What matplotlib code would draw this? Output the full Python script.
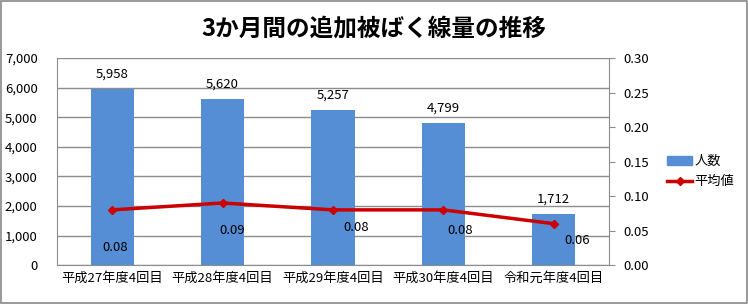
import matplotlib
matplotlib.use("Agg")
import matplotlib.pyplot as plt
from matplotlib.patches import Rectangle
from matplotlib.lines import Line2D
from matplotlib.ticker import FuncFormatter

plt.rcParams['font.family'] = ['Noto Sans CJK JP', 'DejaVu Sans']

categories = ["平成27年度4回目", "平成28年度4回目", "平成29年度4回目", "平成30年度4回目", "令和元年度4回目"]
people = [5958, 5620, 5257, 4799, 1712]
average = [0.08, 0.09, 0.08, 0.08, 0.06]
label_dx = [2, 7, 17, 12, 17]        # line label offsets in points
label_dy = [-27, -20, -13, -15, -12]

title = "3か月間の追加被ばく線量の推移"
bar_color = "#558ED5"
line_color = "#CC0000"
grid_color = "#8C8C8C"

fig = plt.figure(figsize=(7.48, 3.04), dpi=100)
ax = fig.add_axes([0.0762, 0.128, 0.738, 0.681])
ax2 = ax.twinx()

x = list(range(len(categories)))
bars = ax.bar(x, people, width=0.39, color=bar_color, zorder=2)
ax.set_ylim(0, 7000)
ax.set_yticks(range(0, 7001, 1000))
ax.yaxis.set_major_formatter(FuncFormatter(lambda v, p: f"{int(v):,}"))
ax.set_xlim(-0.5, len(categories) - 0.5)
ax.set_xticks(x)
ax.set_xticklabels(categories, fontsize=9.5)
ax.tick_params(axis='x', length=0, pad=5)
ax.tick_params(axis='y', length=0, pad=14, labelsize=9.5)
ax.grid(axis='y', color=grid_color, linewidth=1, zorder=0)
ax.set_axisbelow(True)
for s in ['top', 'right']:
    ax.spines[s].set_visible(False)
ax.spines['left'].set_color(grid_color)
ax.spines['bottom'].set_color(grid_color)

for xi, v in zip(x, people):
    ax.annotate(f"{v:,}", (xi, v), xytext=(0, 6), textcoords='offset points',
                ha='center', va='bottom', fontsize=9.5)

ax2.plot(x, average, color=line_color, linewidth=2.5, marker='D', markersize=4.5,
         markerfacecolor=line_color, markeredgecolor=line_color, zorder=3)
ax2.set_ylim(0, 0.30)
ax2.set_yticks([i * 0.05 for i in range(7)])
ax2.yaxis.set_major_formatter(FuncFormatter(lambda v, p: f"{v:.2f}"))
ax2.tick_params(axis='y', length=4, color=grid_color, labelsize=9.5, pad=6)
for s in ['top', 'left', 'bottom']:
    ax2.spines[s].set_visible(False)
ax2.spines['right'].set_color(grid_color)

for xi, v, dx, dy in zip(x, average, label_dx, label_dy):
    ax2.annotate(f"{v:.2f}", (xi, v), xytext=(dx, dy), textcoords='offset points',
                 ha='center', va='center', fontsize=9.5)

handles = [Rectangle((0, 0), 1, 1, color=bar_color),
           Line2D([0], [0], color=line_color, linewidth=2.5, marker='D', markersize=4.5)]
fig.legend(handles, ["人数", "平均値"], loc='center left', bbox_to_anchor=(0.876, 0.435),
           frameon=False, fontsize=9.5, handlelength=1.9, handletextpad=0.15, labelspacing=0.55)

fig.text(0.5, 0.905, title, ha='center', va='center', fontsize=17, fontweight='bold')

fig.patches.append(Rectangle((0.001, 0.002), 0.997, 0.995, transform=fig.transFigure,
                             fill=False, edgecolor='#888888', linewidth=1.2))

fig.savefig("out.png", dpi=100)
